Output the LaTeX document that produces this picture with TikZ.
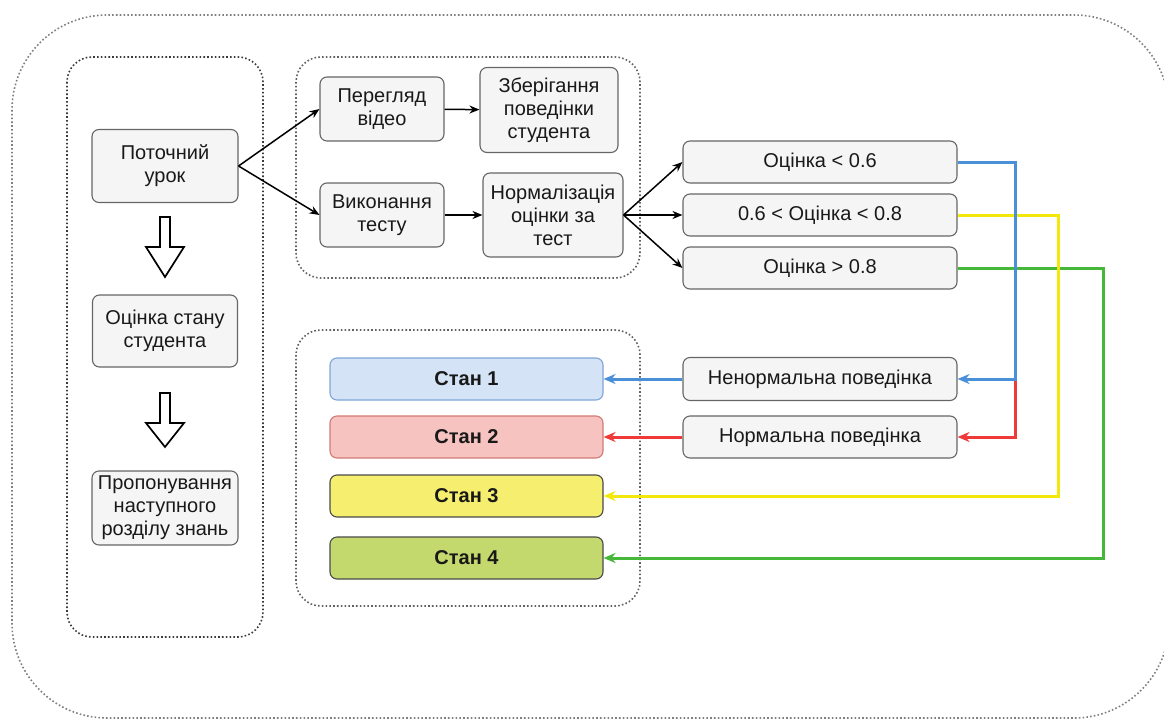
\documentclass[tikz,border=0pt]{standalone}
\usepackage{fontspec}
\setmainfont{Liberation Sans}
\usetikzlibrary{arrows.meta}

\begin{document}
\begin{tikzpicture}[x=1pt, y=-1pt, >={Stealth[length=10pt, width=8pt]}, thick]

  % Colors
  \definecolor{boxfill}{HTML}{F5F5F5}
  \definecolor{boxline}{HTML}{666666}
  \definecolor{dotline}{HTML}{3A3A3A}
  \definecolor{blueline}{HTML}{4A90D9}
  \definecolor{redline}{HTML}{F03A3A}
  \definecolor{yellowline}{HTML}{F2E80C}
  \definecolor{greenline}{HTML}{45B83A}
  \definecolor{sonefill}{HTML}{D4E3F5}
  \definecolor{sonedraw}{HTML}{7EA6D8}
  \definecolor{stwofill}{HTML}{F7C3C0}
  \definecolor{stwodraw}{HTML}{D27A76}
  \definecolor{sthreefill}{HTML}{F5EE6E}
  \definecolor{sfourfill}{HTML}{C3D96E}
  \definecolor{sdarkdraw}{HTML}{4A4A4A}

  \tikzset{
    gbox/.style={draw=boxline, fill=boxfill, rounded corners=7pt, line width=1.1pt,
      align=center, inner sep=1pt, text=black!90,
      font=\fontsize{20}{23}\selectfont},
    sbox/.style={gbox, minimum width=273pt, minimum height=42pt,
      font=\fontsize{20}{23}\selectfont\bfseries},
    wbox/.style={gbox, minimum width=274pt, minimum height=42pt},
    group/.style={draw=dotline, line width=1.6pt, dash pattern=on 1.6pt off 2.2pt,
      rounded corners=25pt},
    flow/.style={->, line width=1.5pt},
    cline/.style={-{Stealth[length=12pt, width=10pt]}, line width=3pt},
    hollow/.style={draw=black, line width=1.7pt, fill=white, line join=miter}
  }

  \useasboundingbox (0,0) rectangle (1164,720);

  % Dotted frames
  \draw[group, rounded corners=95pt, draw=dotline!65] (12,15) rectangle (1169,718);
  \draw[group] (67,57) rectangle (263,637);
  \draw[group, draw=dotline!80] (296,57) rectangle (640,278);
  \draw[group, draw=dotline!80] (296,330) rectangle (640,606);

  % PART 1: lesson column
  \node[gbox, minimum width=146pt, minimum height=73pt] (cur) at (165,166) {Поточний\\урок};
  \node[gbox, minimum width=145pt, minimum height=72pt] (assess) at (165,331) {Оцінка стану\\студента};
  \node[gbox, minimum width=146pt, minimum height=74pt] (next) at (165,508) {Пропонування\\наступного\\розділу знань};

  % Hollow block arrows between the column boxes
  \foreach \t/\h/\b in {217/247/277, 393/423/447} {
    \draw[hollow] (160,\t) -- (170,\t) -- (170,\h) -- (184,\h) -- (165,\b)
      -- (146,\h) -- (160,\h) -- cycle;
  }

  % PART 2: video and test
  \node[gbox, minimum width=124pt, minimum height=64pt] (video) at (382,109) {Перегляд\\відео};
  \node[gbox, minimum width=138pt, minimum height=85pt] (store) at (549,110) {Зберігання\\поведінки\\студента};
  \node[gbox, minimum width=124pt, minimum height=64pt] (test) at (382,215) {Виконання\\тесту};
  \node[gbox, minimum width=140pt, minimum height=84pt] (norm) at (553,215) {Нормалізація\\оцінки за\\тест};

  \draw[flow] (cur.east) -- (video.west);
  \draw[flow] (cur.east) -- (test.west);
  \draw[flow] (video) -- (store);
  \draw[flow] (test) -- (norm);

  % PART 3: score ranges and behaviour
  \node[wbox] (low) at (820,162) {Оцінка < 0.6};
  \node[wbox] (mid) at (820,215) {0.6 < Оцінка < 0.8};
  \node[wbox] (high) at (820,268) {Оцінка > 0.8};
  \node[wbox, minimum height=43pt] (abn) at (820,379) {Ненормальна поведінка};
  \node[wbox] (nrm) at (820,437) {Нормальна поведінка};

  \foreach \n in {low, mid, high} {
    \draw[flow] (norm.east) -- (\n.west);
  }

  % PART 4: states
  \node[sbox, draw=sonedraw, fill=sonefill] (st1) at (466.5,379) {Стан 1};
  \node[sbox, draw=stwodraw, fill=stwofill] (st2) at (466.5,437) {Стан 2};
  \node[sbox, draw=sdarkdraw, fill=sthreefill] (st3) at (466.5,496) {Стан 3};
  \node[sbox, draw=sdarkdraw, fill=sfourfill] (st4) at (466.5,558) {Стан 4};

  % Coloured routes (green first, blue on top)
  \draw[cline, greenline] (high.east) -- ++(146,0) |- (st4.east);
  \draw[cline, yellowline] (mid.east) -- ++(101,0) |- (st3.east);
  \draw[cline, redline] ([xshift=58pt]abn.east) |- (nrm.east);
  \draw[cline, blueline] (low.east) -- ++(58,0) |- (abn.east);
  \draw[cline, blueline] (abn.west) -- (st1.east);
  \draw[cline, redline] (nrm.west) -- (st2.east);

\end{tikzpicture}
\end{document}
